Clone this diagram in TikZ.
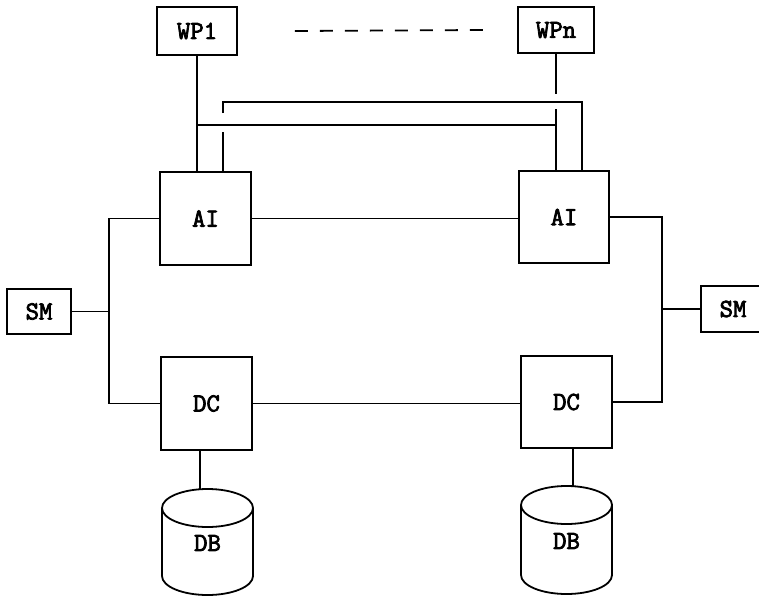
\documentclass[tikz,border=0pt]{standalone}
\usepackage{fontspec}
\newfontfamily\diagfont[FakeBold=3]{Latin Modern Mono}
\usetikzlibrary{calc}
\begin{document}
\begin{tikzpicture}[x=1pt,y=-1pt,line width=1.8pt,
  lbl/.style={inner sep=0pt,font=\diagfont\bfseries\fontsize{26}{26}\selectfont},
  box/.style={lbl,draw}]
\useasboundingbox (0,0) rectangle (759,597);
% boxes
\node[box,minimum width=80pt,minimum height=48pt] (wp1) at (197,31) {WP1};
\node[box,minimum width=76pt,minimum height=46pt] (wpn) at (556,30) {WPn};
\node[box,minimum width=91pt,minimum height=93pt] (ail) at (205.5,218.5) {AI};
\node[box,minimum width=90pt,minimum height=92pt] (air) at (564,217) {AI};
\node[box,minimum width=91pt,minimum height=93pt] (dcl) at (206.5,403.5) {DC};
\node[box,minimum width=91pt,minimum height=92pt] (dcr) at (566.5,402) {DC};
\node[box,minimum width=64pt,minimum height=45pt] (sml) at (39,311.5) {SM};
\begin{scope}
\clip (0,0) rectangle (759,597);
\node[box,minimum width=64pt,minimum height=46pt] (smr) at (733,309) {SM};
\end{scope}
% dashed line between WP boxes
\draw[dash pattern=on 13pt off 12pt] ($(wp1.east)+(57,0)$) coordinate (d1) -- ($(wpn.west)+(-33,0)$) coordinate (d2);
% WP connections
\coordinate (j1) at (197,125);
\coordinate (j2) at (556,125);
\draw (wp1.south) -- (wp1.south |- ail.north);
\draw (j1) -- (j2);
\draw (wpn.south) -- (556,94);
\draw (556,109) -- (556,0 |- air.north);
\coordinate (u1) at (223,102);
\coordinate (u2) at (582,102);
\draw (223,0 |- ail.north) -- (223,132);
\draw (223,113) -- (u1) -- (u2) -- (u2 |- air.north);
% AI-AI and DC-DC
\draw (ail.east) -- (ail.east -| air.west);
\draw (dcl.east) -- (dcl.east -| dcr.west);
% left bus
\coordinate (bl) at (109,0);
\draw (ail.west) -- (ail.west -| bl) -- (dcl.west -| bl) -- (dcl.west);
\draw (sml.east) -- (sml.east -| bl);
% right bus
\coordinate (br) at (662,0);
\draw (air.east) -- (air.east -| br) -- (dcr.east -| br) -- (dcr.east);
\draw (smr.west) -- (smr.west -| br);
% databases
\draw (207.5,508) ellipse [x radius=45.5pt,y radius=19pt];
\draw (162,508) -- (162,576) arc[start angle=180,end angle=360,x radius=45.5pt,y radius=19pt] -- (253,508);
\node[lbl] (dbl) at (207.5,543) {DB};
\coordinate (dbltop) at (200,489.3);
\draw (dcl.south -| dbltop) -- (dbltop);
\draw (566.5,505) ellipse [x radius=45.5pt,y radius=19pt];
\draw (521,505) -- (521,575) arc[start angle=180,end angle=360,x radius=45.5pt,y radius=19pt] -- (612,505);
\node[lbl] (dbr) at (566.5,541) {DB};
\coordinate (dbrtop) at (573,486.3);
\draw (dcr.south -| dbrtop) -- (dbrtop);
\end{tikzpicture}
\end{document}
